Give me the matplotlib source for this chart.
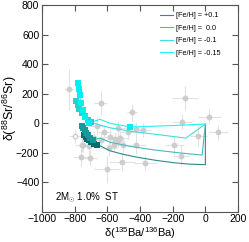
import matplotlib
matplotlib.use('Agg')
import matplotlib.pyplot as plt
import numpy as np

plt.rcParams['font.family'] = ['Liberation Sans', 'DejaVu Sans']
plt.rcParams['mathtext.fontset'] = 'custom'
plt.rcParams['mathtext.rm'] = 'Liberation Sans'
plt.rcParams['mathtext.it'] = 'Liberation Sans:italic'

# grain measurements: delta(135Ba/136Ba), delta(88Sr/86Sr) and errors
grain_x = [-833, -641, -451, -125, -145, 24, 80, -43, -190, -150, -425, -425, -369, -512,
           -600, -761, -747, -715, -665, -584, -554, -535, -504, -682, -533, -472, -560,
           -520, -620, -590, -640, -706, -757, -380]
grain_y = [230, 139, 74, 173, 11, 45, -60, -84, -147, -219, -39, -147, -266, -264,
           -311, -230, -147, -152, -18, -91, -107, -122, -149, -102, -34, -57, -150,
           -100, -60, -170, -110, -233, -147, -45]
grain_xerr = [30, 40, 30, 80, 60, 70, 60, 50, 60, 50, 60, 60, 70, 80,
              80, 50, 40, 40, 50, 50, 50, 40, 50, 40, 50, 50, 40,
              50, 40, 50, 40, 40, 40, 50]
grain_yerr = [140, 80, 60, 80, 50, 50, 50, 70, 70, 70, 50, 60, 50, 60,
              90, 60, 50, 60, 60, 50, 50, 40, 50, 50, 50, 50, 40,
              50, 50, 50, 50, 50, 50, 50]
open_x, open_y, open_xerr, open_yerr = [-798], [-86], [40], [50]

# model tracks, points flagged C/O > 1 are drawn as squares
models = ['[Fe/H] = +0.1', '[Fe/H] =  0.0', '[Fe/H] = -0.1', '[Fe/H] = -0.15']
line_colors = ['#2e8b8b', '#45bcbc', '#40dede', '#20f4f4']
square_colors = ['#0d6b6b', '#139a9a', '#2ad0d0', '#00f0f0']

m1_x = [0, 0, -100, -200, -300, -400, -500, -584, -645, -662, -680, -698, -712, -724, -734, -742]
m1_y = [-5, -280, -276, -266, -251, -233, -211, -186, -152, -150, -140, -128, -116, -103, -90, -76]
m1_co = [0, 0, 0, 0, 0, 0, 0, 0, 0, 1, 1, 1, 1, 1, 1, 1]

m2_x = [0, -20, -150, -300, -450, -584, -645, -690, -705, -718, -730, -740, -748, -755]
m2_y = [-5, -215, -201, -182, -158, -128, -100, -112, -96, -80, -64, -48, -32, -15]
m2_co = [0, 0, 0, 0, 0, 0, 0, 1, 1, 1, 1, 1, 1, 1]

m3_x = [0, -120, -300, -450, -584, -645, -700, -720, -740, -758, -772, -783, -792]
m3_y = [-5, -100, -75, -55, -30, -12, 8, 25, 48, 72, 98, 124, 148]
m3_co = [0, 0, 0, 0, 0, 0, 1, 1, 1, 1, 1, 1, 1]

m4_x = [0, -200, -460, -584, -645, -715, -735, -752, -763, -770, -775, -778]
m4_y = [-5, -15, -25, 0, 27, 2, 40, 88, 140, 190, 235, 272]
m4_co = [0, 0, 1, 0, 0, 1, 1, 1, 1, 1, 1, 1]

tracks = [(m1_x, m1_y, m1_co), (m2_x, m2_y, m2_co), (m3_x, m3_y, m3_co), (m4_x, m4_y, m4_co)]

fig = plt.figure(figsize=(2.49, 2.42), dpi=100)
ax = fig.add_axes([0.169, 0.124, 0.787, 0.855])

ax.errorbar(grain_x, grain_y, xerr=grain_xerr, yerr=grain_yerr, fmt='o', color='#cdcdcd',
            ecolor='#e2e2e2', elinewidth=0.8, markersize=3.2, capsize=0, zorder=1)
ax.errorbar(open_x, open_y, xerr=open_xerr, yerr=open_yerr, fmt='o', mfc='white', mec='#cdcdcd',
            ecolor='#e2e2e2', elinewidth=0.8, markersize=3.2, capsize=0, zorder=1)

for (tx, ty, co), lab, lc, sc in zip(tracks, models, line_colors, square_colors):
    tx, ty, co = np.array(tx), np.array(ty), np.array(co, dtype=bool)
    ax.plot(tx, ty, color=lc, lw=0.8, label=lab, zorder=2)
    ax.plot(tx[co], ty[co], 's', color=sc, markersize=4, mew=0, zorder=3)

ax.set_xlim(-1000, 200)
ax.set_ylim(-600, 800)
ax.set_xticks(np.arange(-1000, 201, 200))
ax.set_yticks(np.arange(-400, 801, 200))
ax.tick_params(direction='in', top=True, right=True, length=4, width=0.8,
               labelsize=7.5, color='#555555', pad=2)
ax.tick_params(axis='x', pad=1.5)
for s in ax.spines.values():
    s.set_color('#555555')
    s.set_linewidth(0.8)

ax.set_xlabel('δ($^{135}$Ba/$^{136}$Ba)', fontsize=8)
ax.set_ylabel('δ($^{88}$Sr/$^{86}$Sr)', fontsize=9)
ax.xaxis.set_label_coords(0.5, -0.062)
ax.yaxis.set_label_coords(-0.12, 0.5)
ax.text(-920, -520, r'2M$_{\odot}$ 1.0%  ST', fontsize=7)

ax.legend(loc='upper right', bbox_to_anchor=(0.908, 0.965), frameon=False, fontsize=5.2,
          handlelength=1.8, labelspacing=0.75, borderaxespad=0, borderpad=0,
          handletextpad=0.4)

fig.savefig('out.png', dpi=100)
